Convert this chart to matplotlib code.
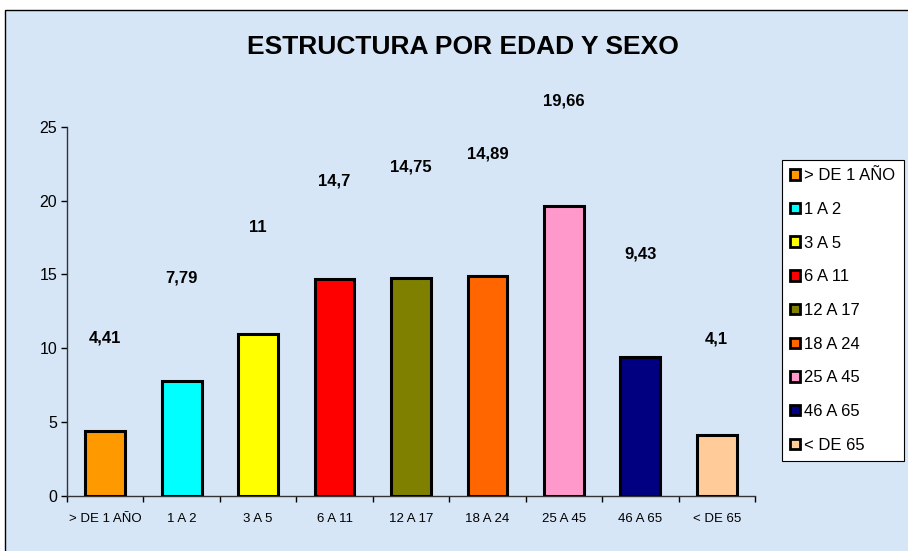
import matplotlib
matplotlib.use('Agg')
import matplotlib.pyplot as plt
import matplotlib.patches as mpatches
import numpy as np

plt.rcParams.update({
    'font.family': ['Liberation Sans', 'DejaVu Sans'],
    'axes.linewidth': 1.0,
})

# --- data ---
categories = ['> DE 1 AÑO', '1 A 2', '3 A 5', '6 A 11', '12 A 17',
              '18 A 24', '25 A 45', '46 A 65', '< DE 65']
values = [4.41, 7.79, 11, 14.7, 14.75, 14.89, 19.66, 9.43, 4.1]
value_labels = ['4,41', '7,79', '11', '14,7', '14,75', '14,89', '19,66', '9,43', '4,1']
colors = ['#FF9900', '#00FFFF', '#FFFF00', '#FF0000', '#808000',
          '#FF6600', '#FF99CC', '#000080', '#FFCC99']
# label lift above each bar (Excel left them scattered)
label_offset = [6.3, 7.0, 7.15, 6.6, 7.5, 8.25, 7.1, 6.95, 6.5]

W, H = 908, 551
fig = plt.figure(figsize=(W / 100, H / 100), dpi=100)
fig.patch.set_facecolor('white')

bg = '#D6E6F7'
fig.patches.append(mpatches.Rectangle((5 / W, -0.05), 1.2, (H - 10) / H + 0.05,
                                      transform=fig.transFigure, facecolor=bg,
                                      edgecolor='black', linewidth=1.0, zorder=-5))

ax = fig.add_axes([67 / W, 1 - 496 / H, (755 - 67) / W, (496 - 126.7) / H])
ax.set_facecolor('none')
ax.set_zorder(2)

x = np.arange(len(categories))
ax.bar(x, values, width=0.52, color=colors, edgecolor='black', linewidth=2.2, zorder=3)

for xi, v, lab, off in zip(x, values, value_labels, label_offset):
    ax.text(xi, v + off, lab, ha='center', va='center', fontsize=12,
            fontweight='bold', clip_on=False)

ax.set_xlim(-0.5, len(categories) - 0.5)
ax.set_ylim(0, 25)
ax.set_yticks([0, 5, 10, 15, 20, 25])
ax.tick_params(axis='y', labelsize=11.5, length=4, width=1, pad=3)

ax.set_xticks(np.arange(-0.5, len(categories), 1))
ax.set_xticklabels([])
ax.set_xticks(x, minor=True)
ax.set_xticklabels(categories, minor=True)
ax.tick_params(axis='x', which='major', length=4, width=1)
ax.tick_params(axis='x', which='minor', length=0, labelsize=9.5, pad=12)

for s in ['top', 'right']:
    ax.spines[s].set_visible(False)
ax.spines['left'].set_color('#333333')
ax.spines['bottom'].set_color('#333333')

fig.text(463 / W, 1 - 47 / H, 'ESTRUCTURA POR EDAD Y SEXO', ha='center', va='center',
         fontsize=19, fontweight='bold')

handles = [mpatches.Patch(facecolor=c, edgecolor='black', linewidth=2.0, label=l)
           for c, l in zip(colors, categories)]
leg = fig.legend(handles=handles, loc='upper left', bbox_to_anchor=(782 / W, 1 - 160 / H),
                 bbox_transform=fig.transFigure, fontsize=12, frameon=True,
                 fancybox=False, edgecolor='black', facecolor='white', framealpha=1,
                 handlelength=0.6, handleheight=0.6, handletextpad=0.25,
                 labelspacing=1.12, borderpad=0.5, borderaxespad=0)
leg.get_frame().set_linewidth(0.8)

fig.savefig('out.png', dpi=100, facecolor='white')
